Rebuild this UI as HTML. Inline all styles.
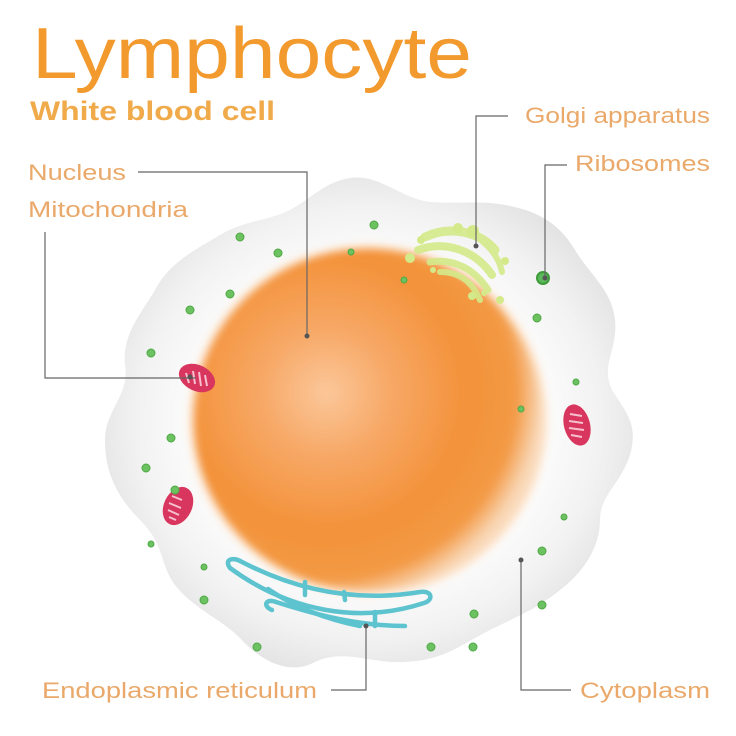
<!DOCTYPE html>
<html><head><meta charset="utf-8"><style>
html,body{margin:0;padding:0;background:#fff;}
svg{display:block;}
text{font-family:"Liberation Sans",sans-serif;}
</style></head><body>
<svg width="736" height="736" viewBox="0 0 736 736" xmlns="http://www.w3.org/2000/svg">
<defs>
<radialGradient id="cyto" cx="50%" cy="50%" r="55%">
<stop offset="0.55" stop-color="#ffffff"/>
<stop offset="0.8" stop-color="#f2f2f2"/>
<stop offset="1" stop-color="#e0e0e0"/>
</radialGradient>
<radialGradient id="nuc" cx="0.38" cy="0.42" r="0.62">
<stop offset="0" stop-color="#fbc79a"/>
<stop offset="0.3" stop-color="#f7a866"/>
<stop offset="0.65" stop-color="#f3923a"/>
<stop offset="0.88" stop-color="#f39a45"/>
<stop offset="1" stop-color="#f9d8b8"/>
</radialGradient>
<filter id="blur" x="-10%" y="-10%" width="120%" height="120%"><feGaussianBlur stdDeviation="4"/></filter>
</defs>

<text x="32" y="78" font-size="72" fill="#f29a2e" textLength="440" lengthAdjust="spacingAndGlyphs">Lymphocyte</text>
<text x="30" y="120" font-size="27" font-weight="bold" fill="#f0aa4a" textLength="245" lengthAdjust="spacingAndGlyphs">White blood cell</text>
<g font-size="22" fill="#eaa96a">
<text x="28" y="180" textLength="98" lengthAdjust="spacingAndGlyphs">Nucleus</text>
<text x="28" y="217" textLength="160" lengthAdjust="spacingAndGlyphs">Mitochondria</text>
<text x="525" y="123" textLength="185" lengthAdjust="spacingAndGlyphs">Golgi apparatus</text>
<text x="575" y="171" textLength="135" lengthAdjust="spacingAndGlyphs">Ribosomes</text>
<text x="42" y="698" textLength="275" lengthAdjust="spacingAndGlyphs">Endoplasmic reticulum</text>
<text x="580" y="698" textLength="130" lengthAdjust="spacingAndGlyphs">Cytoplasm</text>
</g>

<!-- cell -->
<path d="M350,178 C380,174 400,198 430,202 C460,204 485,200 510,206 C540,212 560,225 575,250 C590,275 612,290 615,320 C618,350 600,365 612,390 C628,415 638,425 630,455 C620,485 600,495 600,520 C600,550 580,575 560,590 C535,610 520,615 490,630 C460,645 445,660 405,662 C370,664 345,648 315,662 C285,678 255,655 240,638 C220,618 195,610 175,585 C160,565 165,545 140,520 C115,495 105,470 105,440 C105,410 130,395 125,365 C122,335 140,315 155,290 C170,262 195,250 220,235 C245,220 265,222 290,210 C315,196 325,182 350,178 Z" fill="url(#cyto)"/>

<!-- nucleus -->
<ellipse cx="368" cy="420" rx="180" ry="176" fill="#fde8d4" filter="url(#blur)"/>
<ellipse cx="368" cy="420" rx="174" ry="171" fill="url(#nuc)" filter="url(#blur)"/>

<!-- golgi -->
<g fill="none" stroke="#d4ea8a" stroke-linecap="round" opacity="0.9">
<path d="M425,237 C450,225 480,232 495,250" stroke-width="9"/>
<path d="M418,250 C445,240 475,250 492,275" stroke-width="8"/>
<path d="M430,262 C455,258 475,270 488,290" stroke-width="7"/>
<path d="M440,272 C460,272 472,282 480,300" stroke-width="6"/>
<path d="M483,242 C495,252 500,262 502,272" stroke-width="6"/>
</g>
<g fill="#d4ea8a">
<circle cx="458" cy="228" r="5"/><circle cx="473" cy="231" r="6"/><circle cx="421" cy="240" r="4"/>
<circle cx="410" cy="258" r="5"/><circle cx="505" cy="261" r="4"/><circle cx="433" cy="270" r="3"/>
<circle cx="472" cy="296" r="4"/><circle cx="484" cy="293" r="3"/><circle cx="500" cy="300" r="4"/>
</g>

<!-- ER -->
<g fill="none" stroke="#5cc3cf" stroke-width="4.5" stroke-linecap="round" stroke-linejoin="round">
<path d="M230,568 C224,560 232,556 242,562 C300,592 360,602 420,592 C432,590 434,600 424,603 C360,624 290,612 230,568 Z"/>
<path d="M272,610 C262,606 266,598 276,602 C320,616 360,626 405,626"/>
<path d="M268,589 C290,604 320,618 360,626"/>
<path d="M305,595 L305,582"/><path d="M345,600 L344,592"/>
<path d="M375,626 L375,612"/>
</g>

<!-- mitochondria -->
<g>
<ellipse cx="197" cy="378" rx="19" ry="13" transform="rotate(25 197 378)" fill="#d8365e"/>
<g stroke="#f7c0cf" stroke-width="2"><line x1="186" y1="373" x2="189" y2="383"/><line x1="193" y1="371" x2="195" y2="384"/><line x1="199" y1="372" x2="201" y2="386"/><line x1="205" y1="375" x2="207" y2="386"/></g>
<ellipse cx="178" cy="506" rx="14" ry="20" transform="rotate(25 178 506)" fill="#d8365e"/>
<g stroke="#f7c0cf" stroke-width="2"><line x1="172" y1="496" x2="182" y2="500"/><line x1="169" y1="503" x2="181" y2="508"/><line x1="168" y1="510" x2="179" y2="515"/><line x1="169" y1="517" x2="176" y2="520"/></g>
<ellipse cx="577" cy="425" rx="13" ry="21" transform="rotate(-15 577 425)" fill="#d8365e"/>
<g stroke="#f7c0cf" stroke-width="2"><line x1="570" y1="414" x2="582" y2="416"/><line x1="569" y1="421" x2="583" y2="423"/><line x1="569" y1="428" x2="584" y2="430"/><line x1="571" y1="435" x2="582" y2="437"/></g>
</g>

<!-- ribosomes -->
<g fill="#6cc160" stroke="#4fa845" stroke-width="1">
<circle cx="240" cy="237" r="4"/><circle cx="278" cy="253" r="4"/><circle cx="374" cy="225" r="4"/><circle cx="351" cy="252" r="3"/>
<circle cx="230" cy="294" r="4"/><circle cx="190" cy="310" r="4"/><circle cx="404" cy="280" r="3"/>
<circle cx="151" cy="353" r="4"/><circle cx="171" cy="438" r="4"/><circle cx="146" cy="468" r="4"/><circle cx="175" cy="490" r="4"/>
<circle cx="151" cy="544" r="3"/><circle cx="204" cy="567" r="3"/><circle cx="204" cy="600" r="4"/>
<circle cx="257" cy="647" r="4"/><circle cx="431" cy="647" r="4"/><circle cx="473" cy="647" r="4"/><circle cx="474" cy="614" r="4"/>
<circle cx="542" cy="605" r="4"/><circle cx="542" cy="551" r="4"/><circle cx="564" cy="517" r="3"/><circle cx="521" cy="409" r="3"/>
<circle cx="576" cy="382" r="3"/><circle cx="537" cy="318" r="4"/><circle cx="543" cy="278" r="6" fill="#5cb85c" stroke="#3f9a3a" stroke-width="2"/>
</g>

<!-- leader lines -->
<g fill="none" stroke="#666" stroke-width="1.2">
<polyline points="138,172 307,172 307,336"/>
<polyline points="45,232 45,378 196,378"/>
<polyline points="508,116 476,116 476,246"/>
<polyline points="567,165 545,165 545,278"/>
<polyline points="331,690 366,690 366,626"/>
<polyline points="571,690 521,690 521,560"/>
</g>
<g fill="#555">
<circle cx="307" cy="336" r="2.5"/><circle cx="476" cy="246" r="2.5"/><circle cx="545" cy="278" r="2.5"/>
<circle cx="366" cy="626" r="2.5"/><circle cx="521" cy="560" r="2.5"/><circle cx="190" cy="377" r="2.5"/>
</g>
</svg>
</body></html>
